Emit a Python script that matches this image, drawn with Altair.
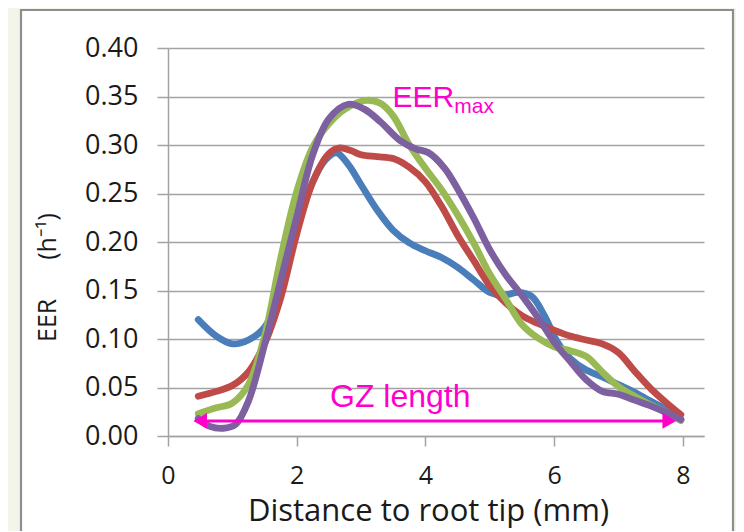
import altair as alt
import pandas as pd

# ---- data (x in mm, EER in h^-1) ----
blue_x = [0.47, 0.75, 1.0, 1.25, 1.5, 1.75, 2.0, 2.25, 2.45, 2.62, 2.8, 3.0, 3.25, 3.5, 3.75, 4.0,
          4.25, 4.5, 4.75, 5.0, 5.2, 5.45, 5.65, 5.85, 6.05, 6.25, 6.5, 6.75, 7.0, 7.25, 7.5, 7.75, 7.97]
blue_y = [0.120, 0.103, 0.095, 0.099, 0.112, 0.150, 0.212, 0.262, 0.285, 0.292, 0.280, 0.259, 0.233,
          0.212, 0.199, 0.191, 0.184, 0.174, 0.161, 0.148, 0.145, 0.148, 0.144, 0.124, 0.097, 0.080,
          0.068, 0.061, 0.053, 0.045, 0.036, 0.027, 0.017]

red_x = [0.47, 0.75, 1.0, 1.25, 1.5, 1.75, 2.0, 2.25, 2.5, 2.67, 2.85, 3.0, 3.25, 3.5, 3.75, 4.0,
         4.25, 4.5, 4.75, 5.0, 5.25, 5.5, 5.75, 6.0, 6.25, 6.5, 6.75, 7.0, 7.25, 7.5, 7.75, 7.97]
red_y = [0.041, 0.046, 0.052, 0.066, 0.095, 0.142, 0.208, 0.262, 0.291, 0.297, 0.294, 0.290, 0.288,
         0.286, 0.277, 0.262, 0.237, 0.207, 0.181, 0.155, 0.137, 0.124, 0.116, 0.109, 0.103, 0.099,
         0.095, 0.086, 0.067, 0.049, 0.034, 0.022]

green_x = [0.47, 0.75, 1.0, 1.25, 1.5, 1.75, 2.0, 2.25, 2.5, 2.75, 3.08, 3.3, 3.5, 3.75, 4.0, 4.25,
           4.5, 4.75, 5.0, 5.25, 5.5, 5.75, 6.0, 6.25, 6.5, 6.75, 7.0, 7.25, 7.5, 7.75, 7.97]
green_y = [0.023, 0.029, 0.034, 0.053, 0.103, 0.183, 0.252, 0.298, 0.322, 0.337, 0.346, 0.343, 0.330,
           0.300, 0.276, 0.254, 0.228, 0.199, 0.167, 0.141, 0.115, 0.101, 0.092, 0.088, 0.082, 0.066,
           0.051, 0.041, 0.032, 0.024, 0.016]

purple_x = [0.47, 0.65, 0.86, 1.05, 1.25, 1.5, 1.75, 2.0, 2.25, 2.5, 2.8, 3.05, 3.3, 3.6, 3.85, 4.05,
            4.3, 4.5, 4.75, 5.0, 5.25, 5.5, 5.75, 6.0, 6.25, 6.5, 6.75, 7.0, 7.25, 7.5, 7.75, 7.97]
purple_y = [0.018, 0.010, 0.008, 0.012, 0.036, 0.094, 0.160, 0.226, 0.290, 0.327, 0.342, 0.337, 0.324,
            0.305, 0.296, 0.292, 0.276, 0.255, 0.225, 0.192, 0.166, 0.145, 0.122, 0.097, 0.077, 0.058,
            0.046, 0.043, 0.037, 0.031, 0.024, 0.017]

series_colors = ["#4A7EBB", "#BE4B48", "#98B954", "#7D60A0"]

y_ticks = [0.0, 0.05, 0.10, 0.15, 0.20, 0.25, 0.30, 0.35, 0.40]
x_ticks = [0, 2, 4, 6, 8]

x_title = "Distance to root tip (mm)"
NB = "\u00a0"
y_title = "EER" + NB * 6 + "(h\u207b\u00b9)"

# annotations
eer_label = "EER"
eer_sub = "max"
eer_pos = (3.49, 0.339)
eer_sub_pos = (4.45, 0.333)
gz_label = "GZ length"
gz_pos = (3.61, 0.0297)
arrow_x = [0.47, 7.84]
arrow_y = 0.0155
arrow_heads_x = [0.50, 7.79]

MAGENTA = "#FF00CC"
GRID = "#A3A3A3"
AXFONT = "Open Sans"
TXT = "#1a1a1a"

xscale = alt.Scale(domain=[0, 8.33], nice=False, zero=False)
yscale = alt.Scale(domain=[0, 0.4], nice=False)

xaxis = alt.Axis(values=x_ticks, grid=False, domainColor=GRID, domainWidth=1.5, tickColor=GRID,
                 tickWidth=1.5, tickSize=10, labelFont=AXFONT, labelFontSize=25, labelColor=TXT,
                 labelPadding=17, labelFlush=False, title=x_title, titleFont=AXFONT,
                 titleFontSize=31, titleFontWeight="normal", titleColor=TXT, titleX=260,
                 titleY=84, titleBaseline="alphabetic", titleAlign="center")
yaxis = alt.Axis(values=y_ticks, format=".2f", grid=True, gridColor=GRID, gridWidth=1.5,
                 domainColor=GRID, domainWidth=1.5, tickColor=GRID, tickWidth=1.5, tickSize=11,
                 labelFont=AXFONT, labelFontSize=27, labelColor=TXT, labelPadding=19,
                 labelFlush=False,
                 title=y_title, titleFont=AXFONT, titleFontSize=25, titleFontWeight="normal",
                 titleColor=TXT, titleAngle=270, titleX=-121, titleY=229,
                 titleBaseline="middle", titleAlign="center")


def X(field="x"):
    return alt.X(f"{field}:Q", scale=xscale, axis=xaxis)


def Y(field="y"):
    return alt.Y(f"{field}:Q", scale=yscale, axis=yaxis)


one = pd.DataFrame({"d": [0]})
BEIGE = "#F3F5EA"

# page decoration (beige margin + panel frame), placed outside the axes
beige_left = alt.Chart(one).mark_rect(color=BEIGE).encode(
    x=alt.value(-160), x2=alt.value(-148), y=alt.value(-40), y2=alt.value(495))
beige_top = alt.Chart(one).mark_rect(color=BEIGE).encode(
    x=alt.value(-160), x2=alt.value(570), y=alt.value(-40), y2=alt.value(-39))
beige_right = alt.Chart(one).mark_rect(color=BEIGE).encode(
    x=alt.value(566), x2=alt.value(570), y=alt.value(-40), y2=alt.value(495))
frame = alt.Chart(one).mark_rect(fill="white", fillOpacity=0, stroke="#8E8E8E", strokeWidth=2.2).encode(
    x=alt.value(-147), x2=alt.value(565), y=alt.value(-38), y2=alt.value(600))


def line_layer(xs, ys, color):
    df = pd.DataFrame({"x": xs, "y": ys})
    return alt.Chart(df).mark_line(color=color, strokeWidth=6.8, interpolate="catmull-rom",
                                   strokeCap="round", strokeJoin="round").encode(x=X(), y=Y())


lines = [line_layer(blue_x, blue_y, series_colors[0]),
         line_layer(red_x, red_y, series_colors[1]),
         line_layer(green_x, green_y, series_colors[2]),
         line_layer(purple_x, purple_y, series_colors[3])]

arrow_df = pd.DataFrame({"x": [arrow_x[0]], "x2": [arrow_x[1]], "y": [arrow_y]})
arrow_line = alt.Chart(arrow_df).mark_rule(color=MAGENTA, strokeWidth=3).encode(
    x=X(), x2="x2:Q", y=Y())
heads_df = pd.DataFrame({"x": arrow_heads_x, "y": [arrow_y, arrow_y],
                         "shape": ["triangle-left", "triangle-right"]})
heads = alt.Chart(heads_df).mark_point(filled=True, color=MAGENTA, size=250, opacity=1).encode(
    x=X(), y=Y(),
    shape=alt.Shape("shape:N", scale=alt.Scale(domain=["triangle-left", "triangle-right"],
                                                range=["triangle-left", "triangle-right"]),
                    legend=None))

eer_df = pd.DataFrame({"x": [eer_pos[0]], "y": [eer_pos[1]], "t": [eer_label]})
eer_text = alt.Chart(eer_df).mark_text(font="Liberation Sans", fontSize=30, color=MAGENTA,
                                       align="left", baseline="alphabetic").encode(
    x=X(), y=Y(), text="t:N")
sub_df = pd.DataFrame({"x": [eer_sub_pos[0]], "y": [eer_sub_pos[1]], "t": [eer_sub]})
sub_text = alt.Chart(sub_df).mark_text(font="Liberation Sans", fontSize=21, color=MAGENTA,
                                       align="left", baseline="alphabetic").encode(
    x=X(), y=Y(), text="t:N")
gz_df = pd.DataFrame({"x": [gz_pos[0]], "y": [gz_pos[1]], "t": [gz_label]})
gz_text = alt.Chart(gz_df).mark_text(font="Liberation Sans", fontSize=32, color=MAGENTA,
                                     align="center", baseline="alphabetic").encode(
    x=X(), y=Y(), text="t:N")

chart = alt.layer(
    beige_left, beige_top, beige_right, frame,
    *lines, arrow_line, heads, eer_text, sub_text, gz_text
).properties(
    width=536, height=388,
    padding={"left": 160, "top": 40, "right": 32, "bottom": 95},
    autosize=alt.AutoSizeParams(type="none"),
    background="white",
).configure_view(stroke=None)

chart.save("out.html", embed_options={"renderer": "svg", "actions": False})
